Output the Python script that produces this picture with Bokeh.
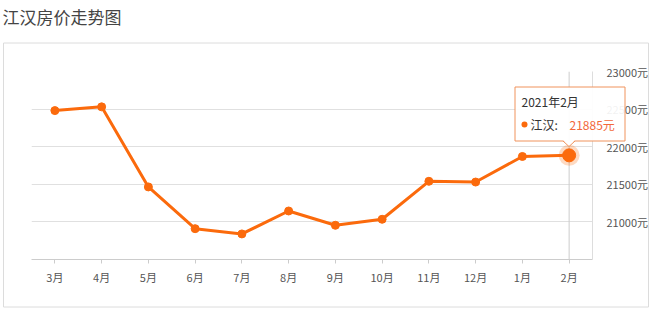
from bokeh.plotting import figure
from bokeh.models import Range1d, FixedTicker, PrintfTickFormatter, CustomJSTickFormatter
from bokeh.core.properties import value
from bokeh.embed import file_html
from bokeh.resources import INLINE

# ---- data ----
title_text = "江汉房价走势图"
series_name = "江汉"
months = ["3月", "4月", "5月", "6月", "7月", "8月", "9月", "10月", "11月", "12月", "1月", "2月"]
prices = [22480, 22530, 21465, 20910, 20840, 21145, 20955, 21035, 21540, 21530, 21870, 21885]
y_ticks = [21000, 21500, 22000, 22500, 23000]
y_min, y_max = 20500, 23000
tooltip_period = "2021年2月"
unit = "元"

FONT = "Noto Sans CJK SC"
ORANGE = "#fb6a0c"
TIP_BORDER = "#f0935c"
FW, FH = 561, 188          # plot frame size in px
BL, BR, BT, BB = 31, 58, 71, 52

# category centres on a numeric axis (band i spans [i, i+1])
xs = [i + 0.5 for i in range(len(months))]

p = figure(frame_width=FW, frame_height=FH,
           x_range=Range1d(0, len(months)), y_range=Range1d(y_min, y_max),
           output_backend="svg", toolbar_location=None,
           y_axis_location="right",
           min_border_left=BL, min_border_right=BR,
           min_border_top=BT, min_border_bottom=BB)
p.outline_line_color = None
p.background_fill_color = "white"
p.border_fill_color = "white"

# pixel ranges for decorations (1 unit = 1 px, origin at frame bottom-left)
p.extra_x_ranges = {"px": Range1d(0, FW)}
p.extra_y_ranges = {"py": Range1d(0, FH)}
def cx(x):  # canvas x -> frame px
    return x - BL
def cy(y):  # canvas y (from top) -> frame px (from bottom)
    return BT + FH - y

# y axis (right)
p.yaxis.ticker = FixedTicker(ticks=y_ticks)
p.yaxis.formatter = PrintfTickFormatter(format="%d" + unit)
p.yaxis.axis_line_color = "#dddddd"
p.yaxis.major_tick_line_color = None
p.yaxis.minor_tick_line_color = None
p.yaxis.major_label_standoff = 8
p.yaxis.major_label_text_font = FONT
p.yaxis.major_label_text_font_size = "11px"
p.yaxis.major_label_text_color = "#555555"

# x axis
p.xaxis.ticker = FixedTicker(ticks=xs, minor_ticks=[])
p.xaxis.formatter = CustomJSTickFormatter(args=dict(months=months),
                                          code="return months[Math.floor(tick)];")
p.xaxis.axis_line_color = "#cccccc"
p.xaxis.major_tick_line_color = "#cccccc"
p.xaxis.minor_tick_line_color = None
p.xaxis.major_tick_out = 4
p.xaxis.major_tick_in = 0
p.xaxis.major_label_standoff = 5
p.xaxis.major_label_text_font = FONT
p.xaxis.major_label_text_font_size = "11px"
p.xaxis.major_label_text_color = "#555555"

p.xgrid.grid_line_color = None
p.ygrid.grid_line_color = "#e0e0e0"

# crosshair at last point
p.segment(x0=[xs[-1]], y0=[y_min], x1=[xs[-1]], y1=[y_max],
          line_color="#cccccc", line_width=1)

# series
p.line(xs, prices, line_color=ORANGE, line_width=3)
p.scatter(xs[:-1], prices[:-1], size=8, fill_color=ORANGE, line_color=ORANGE)
p.scatter([xs[-1]], [prices[-1]], size=21, fill_color=ORANGE, fill_alpha=0.25, line_color=None)
p.scatter([xs[-1]], [prices[-1]], size=13, fill_color=ORANGE, line_color=ORANGE)

PX = dict(x_range_name="px", y_range_name="py", level="overlay")

# outer container border
p.quad(left=[cx(3)], right=[cx(648)], top=[cy(42.5)], bottom=[cy(306.5)],
       fill_color=None, line_color="#dcdcdc", line_width=1, **PX)

# title
p.text(x=[cx(2)], y=[cy(16)], text=[title_text], text_font=value(FONT),
       text_font_size="17px", text_color="#444444",
       text_baseline="middle", text_align="left", **PX)

# tooltip
p.quad(left=[cx(514.5)], right=[cx(624.5)], top=[cy(86.5)], bottom=[cy(140.5)],
       fill_color="white", fill_alpha=0.92, line_color=TIP_BORDER, line_width=1, **PX)
p.patch(x=[cx(562.5), cx(568.5), cx(574.5)], y=[cy(139.5), cy(146), cy(139.5)],
        fill_color="white", line_color=None, **PX)
p.line(x=[cx(562.5), cx(568.5), cx(574.5)], y=[cy(140.5), cy(146), cy(140.5)],
       line_color=TIP_BORDER, line_width=1, **PX)

p.text(x=[cx(521)], y=[cy(101)], text=[tooltip_period], text_font=value(FONT),
       text_font_size="12px", text_color="#333333",
       text_baseline="middle", text_align="left", **PX)
p.scatter(x=[cx(524)], y=[cy(124)], size=6, fill_color=ORANGE, line_color=None, **PX)
p.text(x=[cx(530)], y=[cy(124)], text=[series_name + ":"], text_font=value(FONT),
       text_font_size="12px", text_color="#333333",
       text_baseline="middle", text_align="left", **PX)
p.text(x=[cx(569)], y=[cy(124)], text=[f"{prices[-1]}{unit}"], text_font=value(FONT),
       text_font_size="12px", text_color="#f2683a",
       text_baseline="middle", text_align="left", **PX)

open("out.html", "w").write(file_html(p, INLINE))
